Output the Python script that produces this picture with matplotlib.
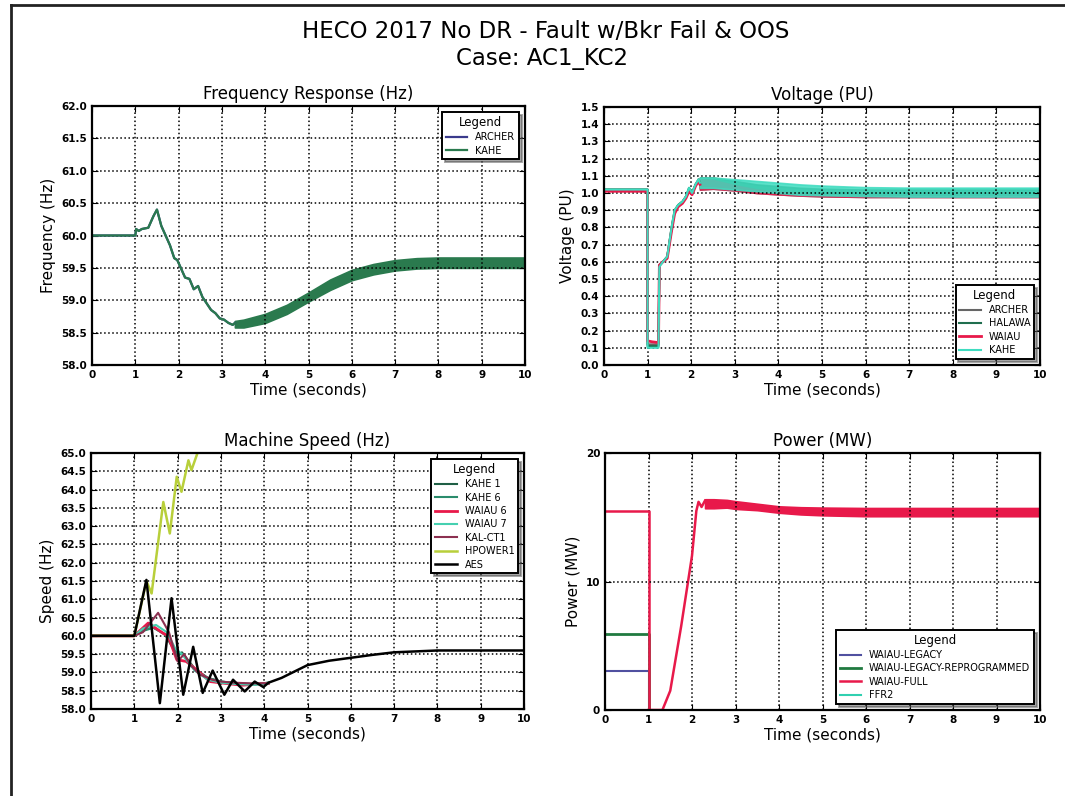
import numpy as np
import matplotlib
matplotlib.use('Agg')
import matplotlib.pyplot as plt
from matplotlib.lines import Line2D

plt.rcParams.update({
    'font.family': 'DejaVu Sans',
    'xtick.direction': 'in', 'ytick.direction': 'in',
    'xtick.top': True, 'ytick.right': True,
    'axes.linewidth': 1.6,
    'xtick.major.size': 4, 'ytick.major.size': 4,
})

TITLE = "HECO 2017 No DR - Fault w/Bkr Fail & OOS"
CASE = "Case: AC1_KC2"

# ---- frequency response (Hz) ----
freq_t = [0, 1.0, 1.02, 1.08, 1.15, 1.3, 1.42, 1.5, 1.6, 1.7, 1.8, 1.9, 1.97, 2.05,
          2.15, 2.25, 2.35, 2.45, 2.55, 2.65, 2.75, 2.85, 2.95, 3.05, 3.15, 3.25, 3.3]
freq_kahe = [60.0, 60.0, 60.1, 60.07, 60.1, 60.12, 60.3, 60.4, 60.15, 60.0, 59.85, 59.65,
             59.62, 59.5, 59.35, 59.33, 59.17, 59.22, 59.05, 58.95, 58.85, 58.8, 58.72,
             58.7, 58.65, 58.62, 58.65]
freq_archer = freq_kahe
# oscillating tail: band centre and half-width
freq_osc_t = [3.3, 3.5, 4.0, 4.5, 5.0, 5.5, 6.0, 6.5, 7.0, 7.5, 8.0, 9.0, 10.0]
freq_osc_mid = [58.63, 58.64, 58.72, 58.86, 59.05, 59.24, 59.39, 59.48, 59.54, 59.57, 59.58, 59.58, 59.58]
freq_osc_amp = [0.05, 0.06, 0.07, 0.07, 0.07, 0.08, 0.08, 0.08, 0.08, 0.08, 0.08, 0.08, 0.08]

# ---- voltage (PU) ----
volt_t = [0, 1.0, 1.0, 1.1, 1.25, 1.27, 1.35, 1.45, 1.55, 1.62, 1.7, 1.8, 1.88, 1.95, 2.02, 2.1, 2.17, 2.2]
volt_archer = [1.02, 1.02, 0.12, 0.12, 0.12, 0.58, 0.60, 0.63, 0.79, 0.89, 0.93, 0.95, 0.98, 1.02, 1.0, 1.05, 1.07, 1.05]
volt_halawa = [1.02, 1.02, 0.11, 0.11, 0.11, 0.58, 0.60, 0.63, 0.80, 0.90, 0.93, 0.95, 0.98, 1.03, 1.0, 1.05, 1.08, 1.06]
volt_waiau = [1.01, 1.01, 0.14, 0.135, 0.13, 0.58, 0.60, 0.62, 0.78, 0.88, 0.92, 0.94, 0.97, 1.01, 0.99, 1.04, 1.07, 1.05]
volt_kahe = [1.02, 1.02, 0.10, 0.10, 0.10, 0.57, 0.60, 0.63, 0.80, 0.90, 0.93, 0.95, 0.98, 1.03, 1.0, 1.05, 1.08, 1.06]
volt_osc_t = [2.2, 2.5, 3.0, 3.5, 4.0, 4.5, 5.0, 6.0, 7.0, 8.0, 10.0]
volt_archer_mid = [1.05, 1.05, 1.03, 1.01, 1.0, 0.99, 0.985, 0.98, 0.98, 0.98, 0.98]
volt_archer_amp = [0.03, 0.025, 0.015, 0.01, 0.008, 0.005, 0.004, 0.003, 0.003, 0.003, 0.003]
volt_halawa_mid = [1.06, 1.06, 1.045, 1.03, 1.02, 1.01, 1.005, 1.0, 1.0, 1.0, 1.0]
volt_halawa_amp = [0.03, 0.03, 0.025, 0.02, 0.02, 0.02, 0.02, 0.02, 0.02, 0.02, 0.02]
volt_waiau_mid = [1.05, 1.05, 1.03, 1.01, 1.0, 0.99, 0.985, 0.98, 0.98, 0.98, 0.98]
volt_waiau_amp = [0.03, 0.025, 0.015, 0.01, 0.008, 0.005, 0.004, 0.003, 0.003, 0.003, 0.003]
volt_kahe_mid = [1.06, 1.06, 1.05, 1.04, 1.03, 1.02, 1.015, 1.008, 1.005, 1.005, 1.005]
volt_kahe_amp = [0.03, 0.03, 0.03, 0.03, 0.03, 0.03, 0.028, 0.026, 0.026, 0.026, 0.026]

# ---- machine speed (Hz) ----
kahe1_t = [0, 1.0, 1.15, 1.4, 1.7, 2.0, 2.1, 2.4, 2.7, 3.0, 3.4, 3.8, 4.1]
kahe1 = [60.0, 60.0, 60.1, 60.25, 60.05, 59.45, 59.55, 59.1, 58.85, 58.75, 58.7, 58.68, 58.72]
kahe6_t = [0, 1.0, 1.15, 1.45, 1.75, 2.0, 2.12, 2.4, 2.7, 3.0, 3.4, 3.8, 4.1]
kahe6 = [60.0, 60.0, 60.12, 60.22, 60.0, 59.5, 59.5, 59.05, 58.85, 58.75, 58.7, 58.68, 58.72]
waiau6_t = [0, 1.0, 1.32, 1.67, 1.78, 1.98, 2.2, 2.44, 2.75, 3.1, 3.5, 3.8, 4.1]
waiau6 = [60.0, 60.0, 60.35, 60.07, 60.0, 59.35, 59.3, 59.07, 58.75, 58.7, 58.65, 58.68, 58.7]
waiau7_t = [0, 1.0, 1.2, 1.5, 1.75, 1.95, 2.1, 2.4, 2.7, 3.0, 3.4, 3.8, 4.1]
waiau7 = [60.0, 60.0, 60.2, 60.3, 60.1, 59.65, 59.5, 59.05, 58.8, 58.72, 58.68, 58.66, 58.7]
kalct1_t = [0, 1.0, 1.2, 1.55, 1.8, 2.0, 2.15, 2.3, 2.5, 2.8, 3.0, 3.3, 3.7, 4.1]
kalct1 = [60.0, 60.0, 60.1, 60.63, 60.1, 59.3, 59.5, 59.2, 58.95, 58.8, 58.75, 58.72, 58.7, 58.7]
hpower1_t = [0, 1.0, 1.28, 1.4, 1.67, 1.82, 1.98, 2.09, 2.25, 2.32, 2.48, 2.6]
hpower1 = [60.0, 60.0, 61.5, 61.16, 63.66, 62.8, 64.35, 63.94, 64.8, 64.53, 65.07, 65.6]
aes_t = [0, 1.0, 1.28, 1.59, 1.86, 2.13, 2.36, 2.58, 2.81, 3.08, 3.28, 3.55, 3.78, 3.98,
         4.1, 4.4, 5.0, 5.5, 6.0, 6.5, 7.0, 8.0, 9.0, 10.0]
aes = [60.0, 60.0, 61.53, 58.16, 61.03, 58.39, 59.7, 58.44, 59.05, 58.39, 58.8, 58.48,
       58.75, 58.6, 58.72, 58.85, 59.2, 59.32, 59.4, 59.48, 59.55, 59.6, 59.6, 59.6]

# ---- power (MW) ----
pow_pre_t = [0, 1.0, 1.0]
pow_legacy = [3.0, 3.0, 0.0]
pow_reprog = [5.9, 5.9, 0.0]
pow_full_pre = [15.5, 15.5, 0.0]
pow_full_t = [1.0, 1.32, 1.5, 1.75, 2.0, 2.1, 2.15, 2.22, 2.3]
pow_full = [0.0, 0.0, 1.5, 6.5, 12.0, 15.5, 16.2, 15.8, 16.3]
pow_osc_t = [2.3, 2.5, 2.8, 3.0, 3.5, 4.0, 4.5, 5.0, 6.0, 7.0, 8.0, 10.0]
pow_osc_mid = [16.05, 16.05, 16.05, 15.95, 15.8, 15.6, 15.5, 15.45, 15.4, 15.4, 15.4, 15.4]
pow_osc_amp = [0.35, 0.35, 0.3, 0.3, 0.25, 0.25, 0.28, 0.3, 0.32, 0.32, 0.32, 0.32]
pow_ffr2 = []

fig = plt.figure(figsize=(10.65, 7.96), dpi=100)
fig.text(0.512, 1 - 32/796, TITLE, ha='center', va='center', fontsize=16.5)
fig.text(0.509, 1 - 58/796, CASE, ha='center', va='center', fontsize=16.5)
fig.add_artist(Line2D([11/1065, 11/1065], [0, 1 - 5/796], color='#222222', lw=2))
fig.add_artist(Line2D([11/1065, 1], [1 - 5/796, 1 - 5/796], color='#222222', lw=2))

ax1 = fig.add_axes([92/1065, 1 - 365/796, 433/1065, 259/796])
ax2 = fig.add_axes([604/1065, 1 - 365/796, 436/1065, 258/796])
ax3 = fig.add_axes([91/1065, 1 - 709/796, 433/1065, 256/796])
ax4 = fig.add_axes([605/1065, 1 - 710/796, 435/1065, 257/796])


def style(ax, title, ylabel, yticks, ylim, yfmt):
    ax.set_xlim(0, 10)
    ax.set_ylim(*ylim)
    ax.set_xticks(range(11))
    ax.set_yticks(yticks)
    ax.set_yticklabels([yfmt.format(v) for v in yticks])
    ax.grid(True, color='black', linestyle=':', linewidth=1.1)
    ax.set_title(title, fontsize=12, pad=5)
    ax.set_xlabel('Time (seconds)', fontsize=11, labelpad=2)
    ax.set_ylabel(ylabel, fontsize=11)
    for lab in ax.get_xticklabels() + ax.get_yticklabels():
        lab.set_fontsize(7.5)
        lab.set_fontweight('bold')


def legend(ax, loc, width=1.4):
    lg = ax.legend(loc=loc, title='Legend', fontsize=7, title_fontsize=8.5, shadow=True,
                   fancybox=False, framealpha=1, borderaxespad=0.6, handlelength=2.2,
                   labelspacing=0.35)
    lg.get_frame().set_edgecolor('black')
    lg.get_frame().set_linewidth(width)


# frequency
ax1.plot(freq_t, freq_archer, color='#3a3a8c', lw=1.6, label='ARCHER')
ax1.plot(freq_t, freq_kahe, color='#2a7a4e', lw=1.6, label='KAHE')
lo = np.array(freq_osc_mid) - np.array(freq_osc_amp)
hi = np.array(freq_osc_mid) + np.array(freq_osc_amp)
ax1.fill_between(freq_osc_t, lo, hi, color='#2a7a4e', lw=1.2, edgecolor='#2a7a4e')
style(ax1, 'Frequency Response (Hz)', 'Frequency (Hz)', np.arange(58.0, 62.01, 0.5), (58, 62), '{:.1f}')
legend(ax1, 'upper right')

# voltage
vcols = {'ARCHER': '#666666', 'HALAWA': '#1f6e4e', 'WAIAU': '#e8194a', 'KAHE': '#3fdcc0'}
vser = [('ARCHER', volt_archer, volt_archer_mid, volt_archer_amp),
        ('HALAWA', volt_halawa, volt_halawa_mid, volt_halawa_amp),
        ('WAIAU', volt_waiau, volt_waiau_mid, volt_waiau_amp),
        ('KAHE', volt_kahe, volt_kahe_mid, volt_kahe_amp)]
for name, v, mid, amp in vser:
    c = vcols[name]
    lw = 2.0 if name == 'WAIAU' else 1.5
    ax2.plot(volt_t, v, color=c, lw=lw, label=name)
    ax2.fill_between(volt_osc_t, np.array(mid) - np.array(amp), np.array(mid) + np.array(amp),
                     color=c, edgecolor=c, lw=1.2, alpha=0.85)
style(ax2, 'Voltage (PU)', 'Voltage (PU)', np.round(np.arange(0, 1.51, 0.1), 1), (0, 1.5), '{:.1f}')
legend(ax2, 'lower right')

# machine speed
ax3.plot(kahe1_t, kahe1, color='#1f5f45', lw=1.5, label='KAHE 1')
ax3.plot(kahe6_t, kahe6, color='#2a8c6c', lw=1.5, label='KAHE 6')
ax3.plot(waiau6_t, waiau6, color='#e8194a', lw=2.0, label='WAIAU 6')
ax3.plot(waiau7_t, waiau7, color='#45d0b0', lw=1.5, label='WAIAU 7')
ax3.plot(kalct1_t, kalct1, color='#8c3050', lw=1.5, label='KAL-CT1')
ax3.plot(hpower1_t, hpower1, color='#b8cf3a', lw=1.8, label='HPOWER1')
ax3.plot(aes_t, aes, color='black', lw=1.8, label='AES')
style(ax3, 'Machine Speed (Hz)', 'Speed (Hz)', np.arange(58.0, 65.01, 0.5), (58, 65), '{:.1f}')
legend(ax3, 'upper right')

# power
ax4.plot(pow_pre_t, pow_legacy, color='#5050a0', lw=1.5, label='WAIAU-LEGACY')
ax4.plot(pow_pre_t, pow_reprog, color='#207a40', lw=2.0, label='WAIAU-LEGACY-REPROGRAMMED')
ax4.plot(pow_pre_t, pow_full_pre, color='#e8194a', lw=1.8, label='WAIAU-FULL')
ax4.plot(pow_full_t, pow_full, color='#e8194a', lw=1.8)
ax4.fill_between(pow_osc_t, np.array(pow_osc_mid) - np.array(pow_osc_amp),
                 np.array(pow_osc_mid) + np.array(pow_osc_amp),
                 color='#e8194a', edgecolor='#e8194a', lw=1.2)
ax4.plot(pow_ffr2, pow_ffr2, color='#30d0b0', lw=1.5, label='FFR2')
style(ax4, 'Power (MW)', 'Power (MW)', [0, 10, 20], (0, 20), '{:d}')
ax4.grid(False)
ax4.grid(True, axis='x', color='black', linestyle=':', linewidth=1.1)
ax4.axhline(10, color='black', linestyle=':', linewidth=1.1)
legend(ax4, 'lower right')

fig.savefig('out.png', dpi=100)
